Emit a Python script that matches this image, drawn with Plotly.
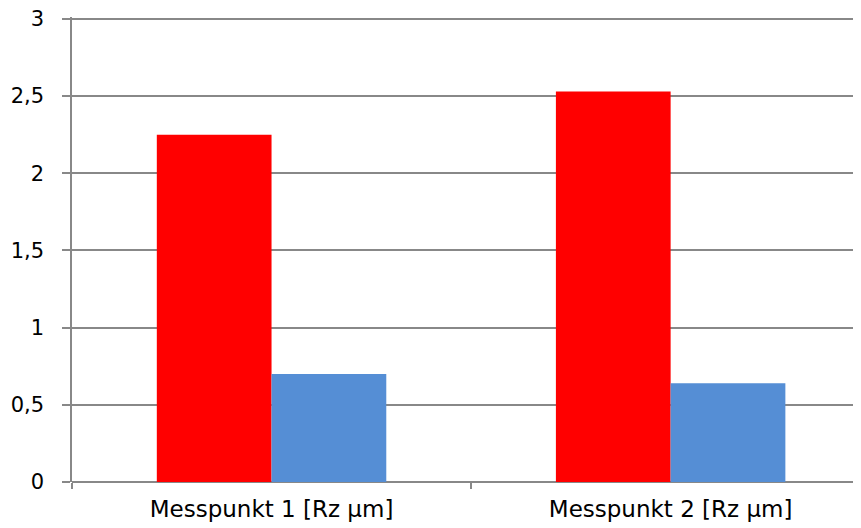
import plotly.graph_objects as go

categories = ["Messpunkt 1 [Rz µm]", "Messpunkt 2 [Rz µm]"]
series_a = [2.25, 2.53]
series_b = [0.70, 0.64]

fig = go.Figure()
fig.add_trace(go.Bar(x=categories, y=series_a, marker=dict(color="#FF0000", line=dict(width=0)), name="A"))
fig.add_trace(go.Bar(x=categories, y=series_b, marker=dict(color="#558ED5", line=dict(width=0)), name="B"))

fig.update_layout(
    width=853, height=520,
    margin=dict(l=64, r=0, t=9, b=46, pad=0),
    barmode="group", bargap=0.425, bargroupgap=0,
    showlegend=False,
    plot_bgcolor="white", paper_bgcolor="white",
    separators=", ",
    font=dict(family="DejaVu Sans", size=21, color="black"),
)
fig.update_xaxes(
    range=[-0.5, 1.477], tickson="boundaries", ticks="outside", ticklen=6,
    tickcolor="#888888", tickwidth=1.5, showline=False, showgrid=False,
    tickfont=dict(size=23), ticklabelstandoff=11,
)
fig.update_yaxes(
    range=[0, 3.012], tickvals=[0, 0.5, 1, 1.5, 2, 2.5, 3],
    ticks="outside", ticklen=8, tickcolor="#888888", tickwidth=1.5,
    showline=True, linecolor="#888888", linewidth=1.5,
    showgrid=True, gridcolor="#888888", gridwidth=1.5,
    zeroline=True, zerolinecolor="#888888", zerolinewidth=1.5,
    ticklabelstandoff=14, tickfont=dict(size=21), ticklabeloverflow="allow",
)
fig.write_html("out.html")
